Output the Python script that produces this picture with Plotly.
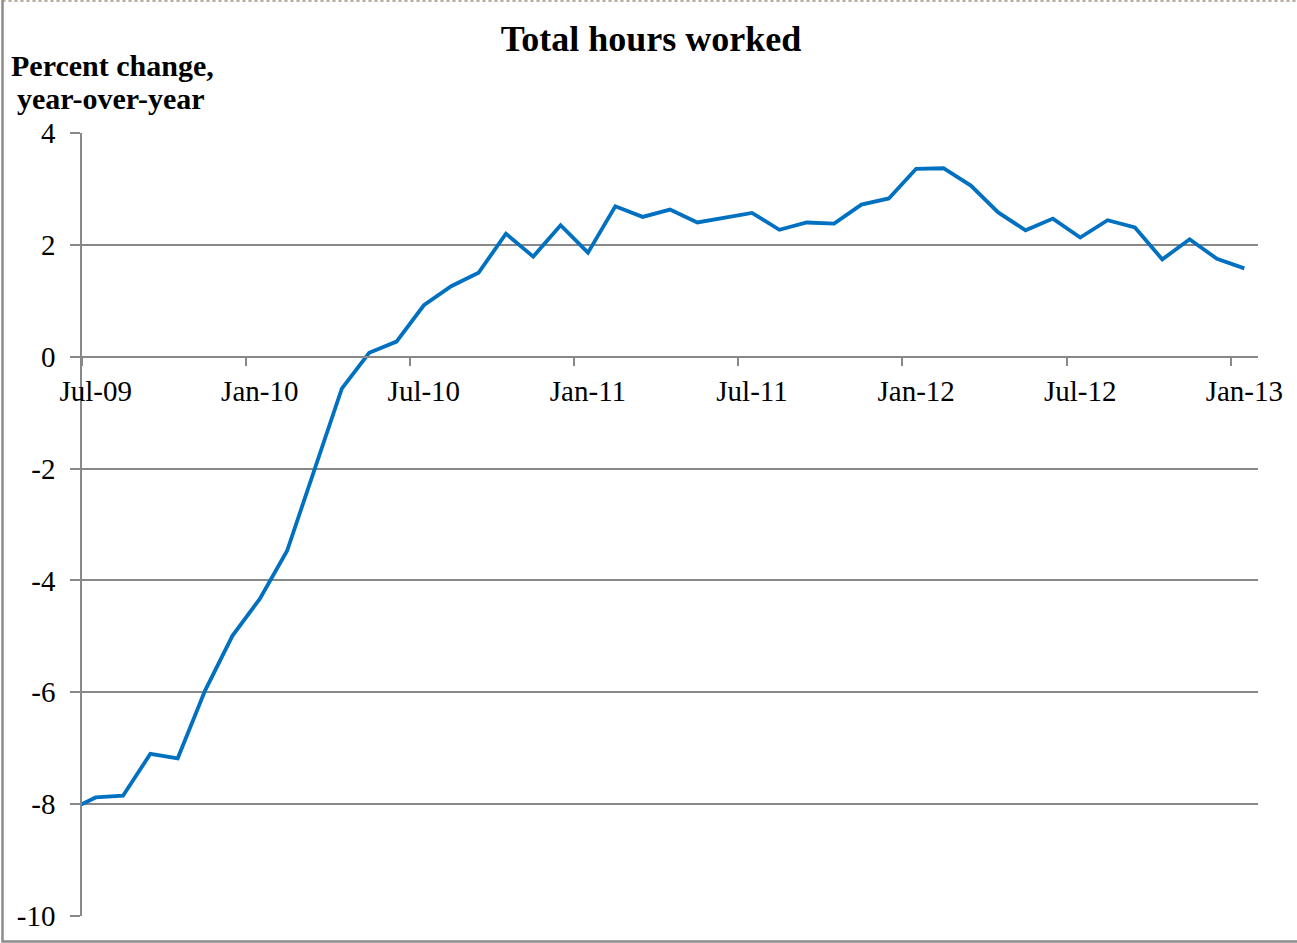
import plotly.graph_objects as go

# ---- data ----
months = [
    "Jun-09", "Jul-09", "Aug-09", "Sep-09", "Oct-09", "Nov-09", "Dec-09",
    "Jan-10", "Feb-10", "Mar-10", "Apr-10", "May-10", "Jun-10", "Jul-10",
    "Aug-10", "Sep-10", "Oct-10", "Nov-10", "Dec-10", "Jan-11", "Feb-11",
    "Mar-11", "Apr-11", "May-11", "Jun-11", "Jul-11", "Aug-11", "Sep-11",
    "Oct-11", "Nov-11", "Dec-11", "Jan-12", "Feb-12", "Mar-12", "Apr-12",
    "May-12", "Jun-12", "Jul-12", "Aug-12", "Sep-12", "Oct-12", "Nov-12",
    "Dec-12", "Jan-13",
]
hours_yoy = [
    -8.12, -7.88, -7.85, -7.10, -7.18, -5.97, -4.99,
    -4.33, -3.47, -2.01, -0.57, 0.07, 0.27, 0.92,
    1.26, 1.50, 2.20, 1.79, 2.35, 1.86, 2.69,
    2.50, 2.63, 2.40, 2.49, 2.57, 2.27, 2.40,
    2.38, 2.72, 2.83, 3.36, 3.37, 3.06, 2.58,
    2.26, 2.47, 2.13, 2.44, 2.31, 1.74, 2.10,
    1.75, 1.58,
]
x_tick_labels = ["Jul-09", "Jan-10", "Jul-10", "Jan-11", "Jul-11", "Jan-12", "Jul-12", "Jan-13"]
y_tick_vals = [4, 2, 0, -2, -4, -6, -8, -10]
y_tick_text = ["4", "2", "0", "-2", "-4", "-6", "-8", "-10"]

# ---- positions derived from categories ----
first = months.index("Jul-09")
xpos = [i - first for i in range(len(months))]
label_pos = [months.index(m) - first for m in x_tick_labels]
boundary_pos = [p - 0.5 for p in label_pos]
last = months.index("Jan-13") - first

W, H = 1297, 943
ML, MR, MT, MB = 82, 39, 133, 27
PW, PH = W - ML - MR, H - MT - MB

GRAY = "#888888"
FONT = "Times New Roman, Liberation Serif, serif"

fig = go.Figure()
fig.add_trace(go.Scatter(
    x=xpos, y=hours_yoy, mode="lines",
    line=dict(color="#0070C0", width=3.8),
    hoverinfo="skip", showlegend=False,
))

ymin, ymax = -10, 4

fig.update_layout(
    width=W, height=H,
    margin=dict(l=ML, r=MR, t=MT, b=MB, pad=0),
    paper_bgcolor="white", plot_bgcolor="white",
    font=dict(family=FONT, color="black", size=29),
    title=dict(
        text="<b>Total hours worked</b>",
        font=dict(family=FONT, size=36, color="black"),
        x=651 / W, xref="container", xanchor="center",
        y=1 - 38.5 / H, yref="container", yanchor="middle",
    ),
    xaxis=dict(
        range=[-0.5, last + 0.5],
        tickmode="array", tickvals=label_pos, ticktext=x_tick_labels,
        ticks="", showgrid=False, zeroline=False,
        showline=True, linecolor=GRAY, linewidth=1.5,
        anchor="free", position=(0 - ymin) / (ymax - ymin),
        tickfont=dict(family=FONT, size=29, color="black"),
        ticklabelstandoff=9,
        minor=dict(tickmode="array", tickvals=boundary_pos, ticks="outside",
                   ticklen=9, tickwidth=1.5, tickcolor=GRAY, showgrid=False),
    ),
    yaxis=dict(
        range=[ymin, ymax],
        tickmode="array", tickvals=y_tick_vals, ticktext=y_tick_text,
        ticks="outside", ticklen=10, tickwidth=1.5, tickcolor=GRAY,
        showgrid=True, gridcolor=GRAY, gridwidth=1.5,
        zeroline=False, showline=True, linecolor=GRAY, linewidth=1.5,
        tickfont=dict(family=FONT, size=29, color="black"),
        ticklabelstandoff=9,
    ),
)

def px_x(px):
    return (px - ML) / PW

def px_y(py):
    return (H - MB - py) / PH

# y-axis caption (two lines, placed above the axis)
fig.add_annotation(text="<b>Percent change,</b>", xref="paper", yref="paper",
                   x=px_x(9), y=px_y(65), xanchor="left", yanchor="middle",
                   showarrow=False, font=dict(family=FONT, size=30, color="black"))
fig.add_annotation(text="<b>year-over-year</b>", xref="paper", yref="paper",
                   x=px_x(15), y=px_y(98), xanchor="left", yanchor="middle",
                   showarrow=False, font=dict(family=FONT, size=30, color="black"))

# chart frame
fig.add_shape(type="path", xref="paper", yref="paper",
              path=f"M {px_x(2.5)},{px_y(-5)} L {px_x(2.5)},{px_y(941.5)} L {px_x(1310)},{px_y(941.5)}",
              line=dict(color="#8c8c8c", width=2.5))
fig.add_shape(type="line", xref="paper", yref="paper",
              x0=px_x(2.5), x1=px_x(1310), y0=px_y(1), y1=px_y(1),
              line=dict(color="#a09080", width=1.5, dash="dot"))

fig.write_html("out.html", config={"displayModeBar": False},
               post_script="document.body.style.margin='0';")
